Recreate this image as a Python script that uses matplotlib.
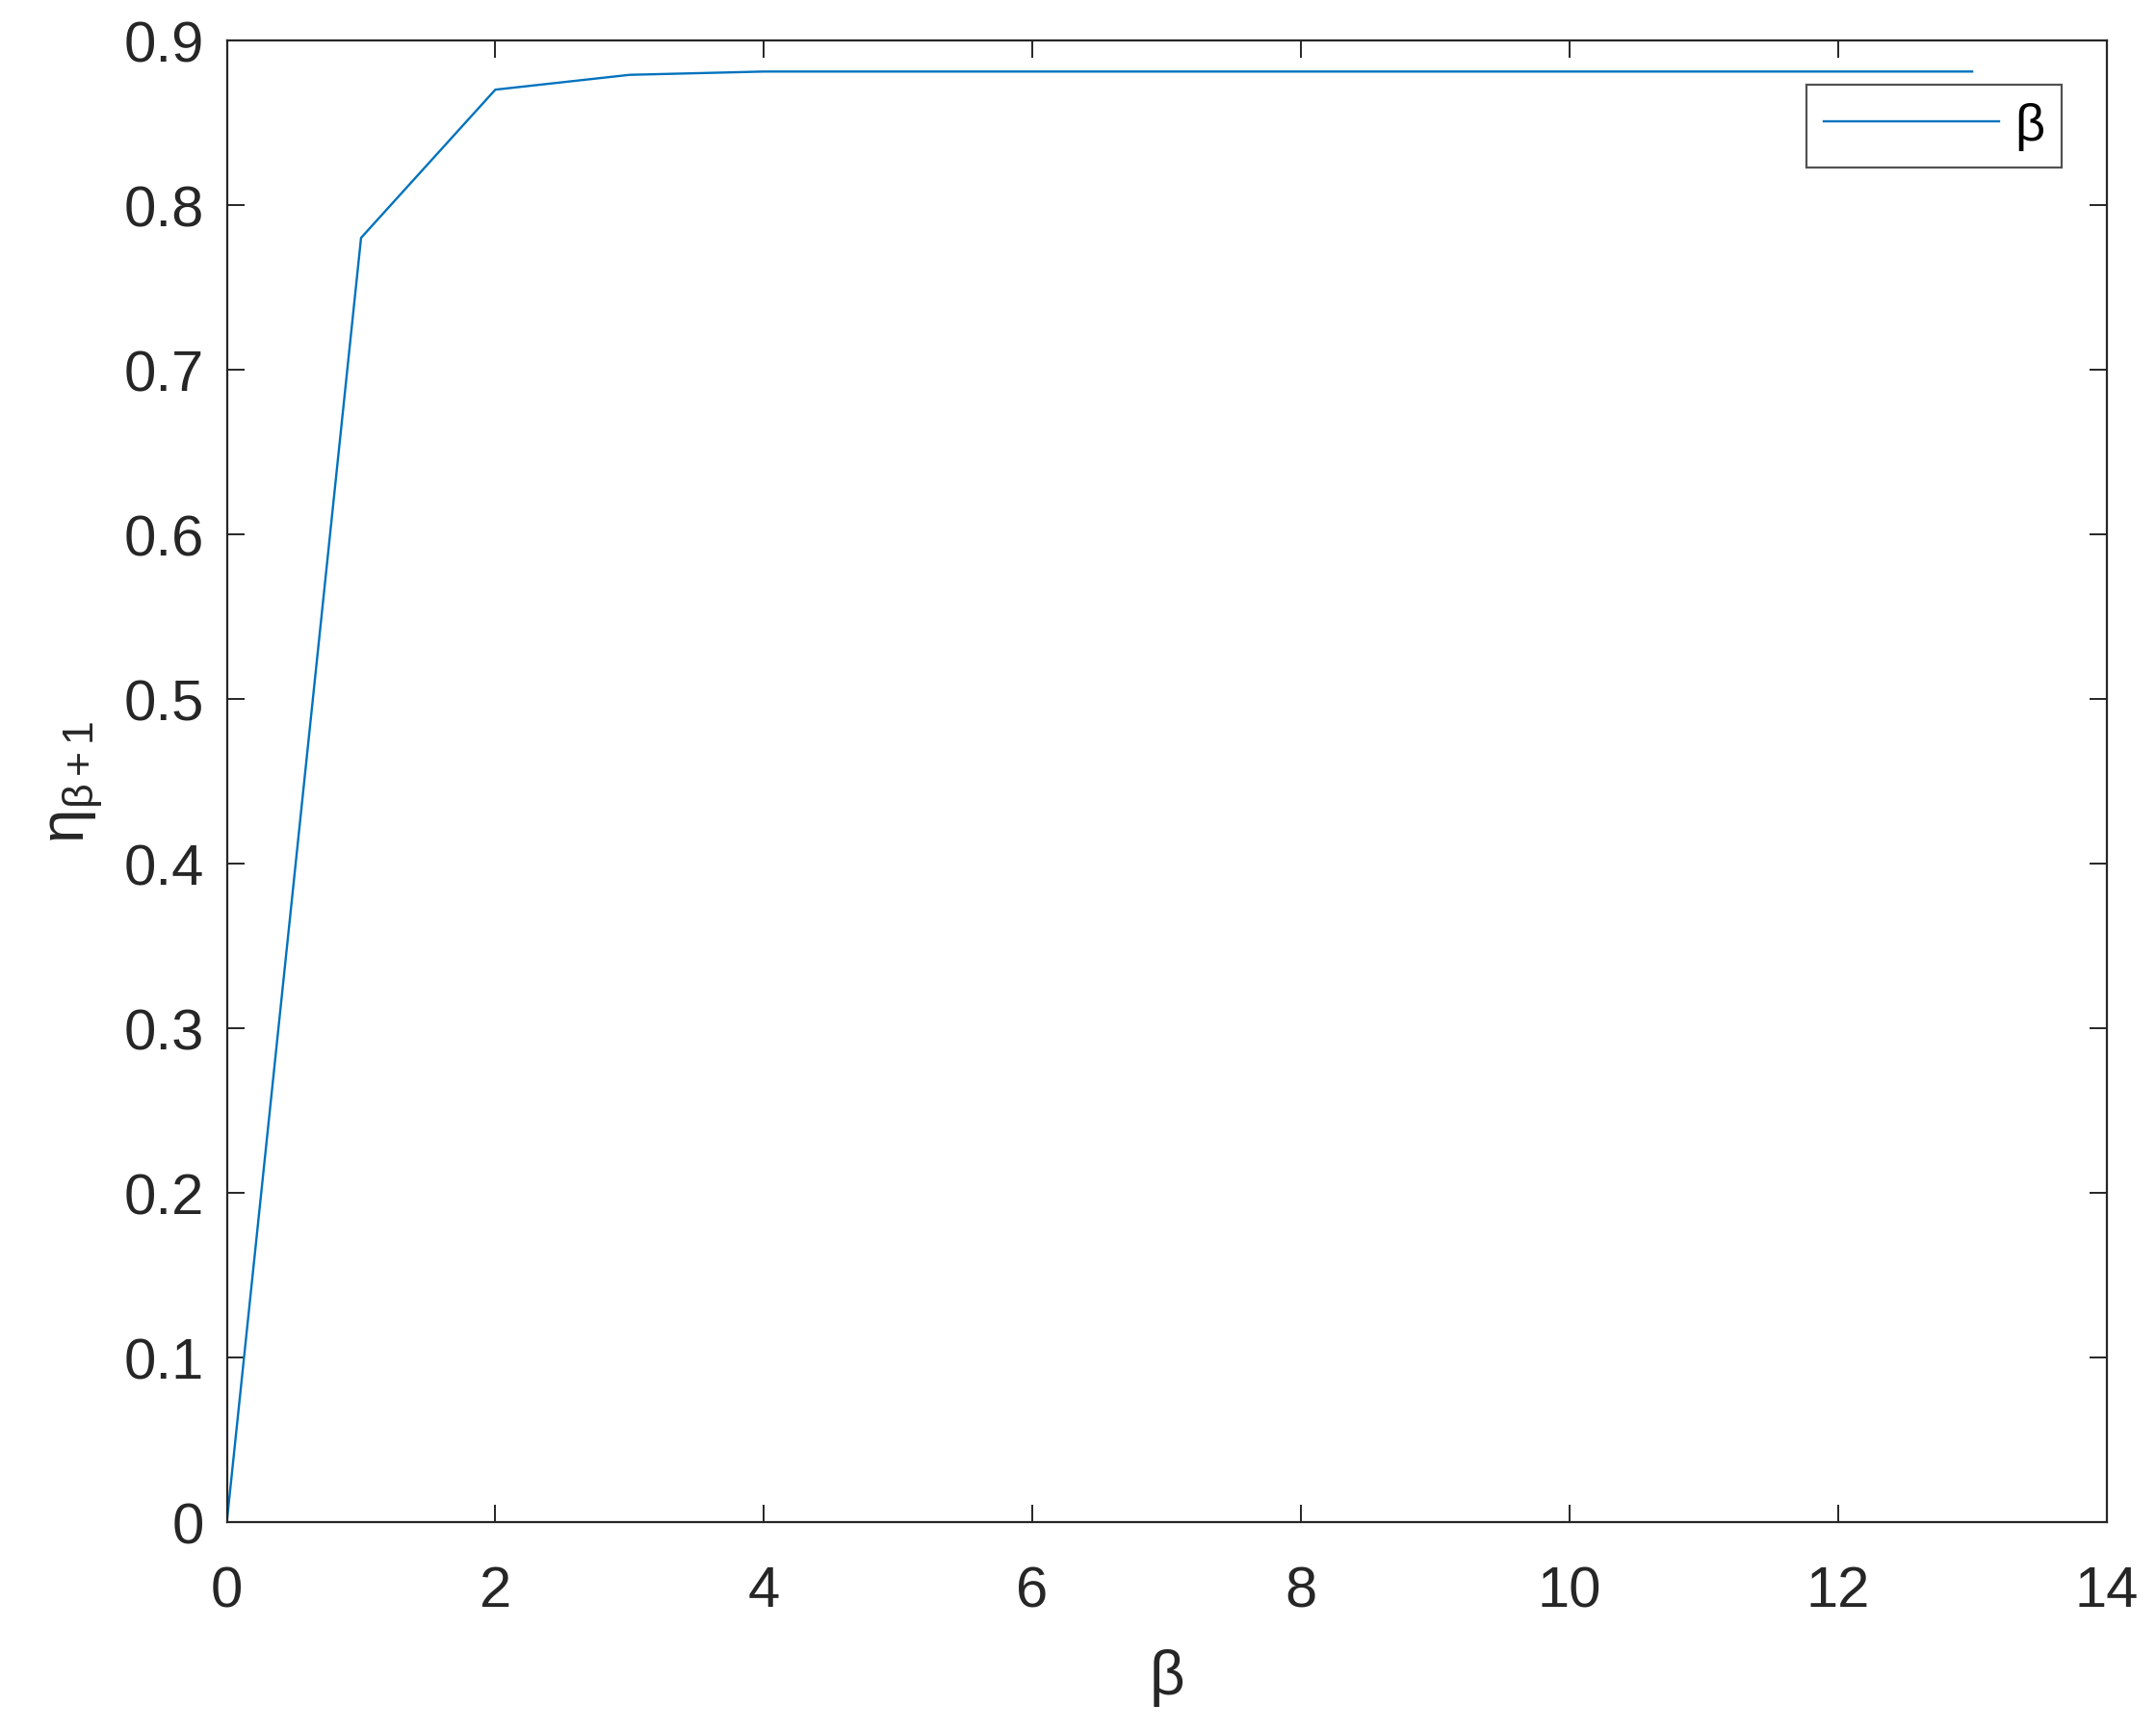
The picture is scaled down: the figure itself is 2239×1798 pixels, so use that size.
import numpy as np
import matplotlib; matplotlib.use('Agg')
import matplotlib.pyplot as plt

# values
beta = np.arange(0, 14)
eta = [0.0, 0.780, 0.870, 0.879, 0.881, 0.881, 0.881, 0.881,
       0.881, 0.881, 0.881, 0.881, 0.881, 0.881]
xticks = np.arange(0, 15, 2)
yticks = np.round(np.arange(0, 0.91, 0.1), 1)

plt.rcParams['font.family'] = ['Liberation Sans', 'DejaVu Sans']
plt.rcParams['mathtext.fontset'] = 'custom'
plt.rcParams['mathtext.rm'] = 'Liberation Sans'
plt.rcParams['mathtext.it'] = 'Liberation Sans'

fig = plt.figure(figsize=(22.39, 17.99), dpi=100)
ax = fig.add_axes([0.1052, 0.1206, 0.8718, 0.8556])
ax.plot(beta, eta, color='#0072BD', lw=1.7, label='β')

ax.set_xlim(0, 14); ax.set_ylim(0, 0.9)
ax.set_xticks(xticks); ax.set_yticks(yticks)
ax.set_xticklabels([str(t) for t in xticks])
ax.set_yticklabels(['0' if t == 0 else f'{t:.1f}' for t in yticks])
ax.tick_params(direction='in', length=13, width=1.4, labelsize=43,
               colors='#262626', top=True, right=True)
ax.tick_params(axis='x', pad=32)
ax.tick_params(axis='y', pad=17)
for s in ax.spines.values():
    s.set_linewidth(1.6); s.set_color('#262626')

ax.set_xlabel('β', fontsize=46, color='#262626', labelpad=23)
ax.set_ylabel(r'$\mathregular{\eta_{\beta+1}}$', fontsize=46, color='#262626', labelpad=14)

leg = ax.legend(loc='upper right', bbox_to_anchor=(0.9762, 0.970), fontsize=39,
                frameon=True, fancybox=False, edgecolor='#262626',
                handlelength=3.35, handletextpad=0.3, borderpad=0.33,
                borderaxespad=0)
leg.get_frame().set_linewidth(1.6)

fig.savefig('out.png', dpi=100)
